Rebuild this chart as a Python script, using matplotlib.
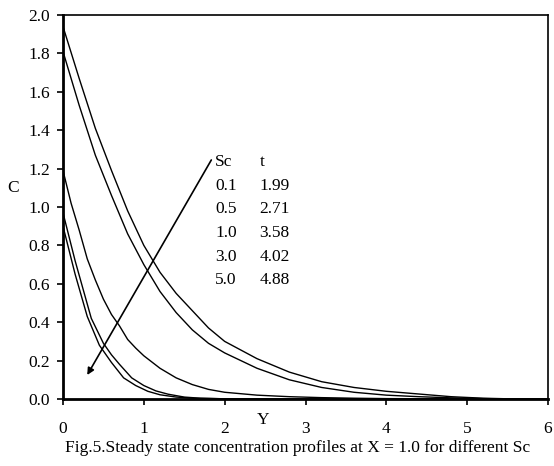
import matplotlib
matplotlib.use('Agg')
import matplotlib.pyplot as plt

plt.rcParams['font.family'] = 'Liberation Serif'
plt.rcParams['font.size'] = 12.5

# concentration profiles C(Y) (Sc = 0.1, 0.5, 1.0, 3.0, 5.0)
y_sc01 = [0, 0.2, 0.4, 0.6, 0.8, 1.0, 1.2, 1.4, 1.6, 1.8, 2.0, 2.4, 2.8, 3.2, 3.6, 4.0, 4.4, 4.8, 5.2, 5.6, 6.0]
c_sc01 = [1.94, 1.67, 1.41, 1.19, 0.98, 0.80, 0.66, 0.55, 0.46, 0.37, 0.30, 0.21, 0.14, 0.09, 0.06, 0.04, 0.026, 0.012, 0.004, 0.0, 0.0]

y_sc05 = [0, 0.2, 0.4, 0.6, 0.8, 1.0, 1.2, 1.4, 1.6, 1.8, 2.0, 2.4, 2.8, 3.2, 3.6, 4.0, 4.4, 4.8, 5.2, 5.6, 6.0]
c_sc05 = [1.81, 1.53, 1.27, 1.06, 0.86, 0.70, 0.56, 0.45, 0.36, 0.29, 0.24, 0.16, 0.10, 0.06, 0.035, 0.02, 0.012, 0.006, 0.002, 0.0, 0.0]

y_sc10 = [0, 0.1, 0.2, 0.3, 0.4, 0.5, 0.6, 0.7, 0.8, 0.9, 1.0, 1.2, 1.4, 1.6, 1.8, 2.0, 2.4, 2.8, 3.2, 3.6, 4.0, 5.0, 6.0]
c_sc10 = [1.19, 1.02, 0.88, 0.73, 0.62, 0.52, 0.44, 0.38, 0.31, 0.265, 0.225, 0.16, 0.11, 0.075, 0.05, 0.035, 0.02, 0.012, 0.007, 0.004, 0.002, 0.0, 0.0]

y_sc30 = [0, 0.15, 0.35, 0.5, 0.6, 0.7, 0.85, 1.0, 1.15, 1.3, 1.5, 1.7, 2.0, 3.0, 6.0]
c_sc30 = [0.97, 0.72, 0.42, 0.29, 0.23, 0.18, 0.11, 0.07, 0.042, 0.025, 0.01, 0.004, 0.001, 0.0, 0.0]

y_sc50 = [0, 0.15, 0.3, 0.45, 0.6, 0.75, 0.9, 1.05, 1.2, 1.4, 1.6, 2.0, 3.0, 6.0]
c_sc50 = [0.90, 0.65, 0.43, 0.28, 0.19, 0.11, 0.07, 0.04, 0.022, 0.01, 0.004, 0.001, 0.0, 0.0]

sc_values = ['0.1', '0.5', '1.0', '3.0', '5.0']
t_values = ['1.99', '2.71', '3.58', '4.02', '4.88']

fig = plt.figure(figsize=(5.54, 4.66), dpi=100)
ax = fig.add_axes([0.1137, 0.1438, 0.8755, 0.824])

for yy, cc in [(y_sc01, c_sc01), (y_sc05, c_sc05), (y_sc10, c_sc10),
               (y_sc30, c_sc30), (y_sc50, c_sc50)]:
    ax.plot(yy, cc, color='black', linewidth=1.0)

ax.set_xlim(0, 6)
ax.set_ylim(0, 2.0)
ax.set_xticks(range(0, 7))
ax.set_yticks([i * 0.2 for i in range(11)])
ax.set_yticklabels(['%.1f' % (i * 0.2) for i in range(11)])
ax.tick_params(direction='out', length=4.5, width=1.2, colors='black')
ax.tick_params(axis='x', pad=11)
ax.tick_params(axis='y', pad=5)

for side in ['left', 'bottom']:
    ax.spines[side].set_linewidth(2.0)
for side in ['top', 'right']:
    ax.spines[side].set_linewidth(1.2)

# arrow showing increasing Sc
ax.annotate('', xy=(0.30, 0.125), xytext=(1.835, 1.245),
            arrowprops=dict(arrowstyle='-|>', color='black', lw=1.2,
                            mutation_scale=10, shrinkA=0, shrinkB=0))

# legend table
ax.text(1.88, 1.232, 'Sc', ha='left', va='center')
ax.text(2.43, 1.232, 't', ha='left', va='center')
for i in range(len(sc_values)):
    yv = 1.232 - (i + 1) * 0.1225
    ax.text(1.88, yv, sc_values[i], ha='left', va='center')
    ax.text(2.43, yv, t_values[i], ha='left', va='center')

fig.text(263 / 554, 1 - 420 / 466, 'Y', ha='center', va='center')
fig.text(13 / 554, 1 - 188 / 466, 'C', ha='center', va='center')
fig.text(298 / 554, 1 - 448 / 466,
         'Fig.5.Steady state concentration profiles at X = 1.0 for different Sc',
         ha='center', va='center')

fig.savefig('out.png', dpi=100)
